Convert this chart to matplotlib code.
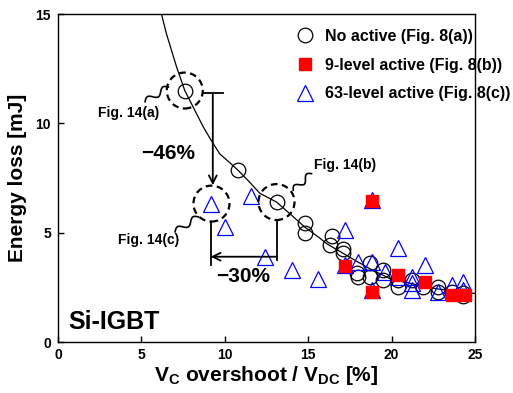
import numpy as np
import matplotlib
matplotlib.use("Agg")
import matplotlib.pyplot as plt
from matplotlib.patches import Ellipse
from matplotlib.lines import Line2D

plt.rcParams['font.family'] = ['Liberation Sans', 'DejaVu Sans']
plt.rcParams['font.weight'] = 'bold'
plt.rcParams['axes.labelweight'] = 'bold'
plt.rcParams['mathtext.fontset'] = 'custom'
plt.rcParams['mathtext.rm'] = 'Liberation Sans:bold'
plt.rcParams['mathtext.bf'] = 'Liberation Sans:bold'

# No active (Fig. 8(a))
no_active_x = [7.6, 10.8, 13.1, 14.8, 14.8, 16.3, 16.4, 17.1, 17.1, 17.9, 18.0, 18.7,
               18.7, 19.5, 19.5, 20.4, 20.4, 21.2, 21.9, 22.8, 22.8, 23.6, 24.3, 24.3]
no_active_y = [11.5, 7.85, 6.4, 5.45, 5.0, 4.45, 4.85, 4.25, 4.05, 3.15, 2.98, 3.6,
               2.98, 3.3, 2.83, 2.83, 2.53, 2.83, 2.53, 2.5, 2.3, 2.3, 2.25, 2.1]

# 9-level active (Fig. 8(b))
lvl9_x = [17.2, 18.8, 18.8, 20.4, 22.0, 23.6, 24.4]
lvl9_y = [3.47, 6.45, 2.3, 3.06, 2.75, 2.15, 2.15]

# 63-level active (Fig. 8(c))
lvl63_x = [9.2, 10.0, 11.6, 12.4, 14.0, 15.6, 17.2, 17.2, 18.0, 18.8, 18.8, 18.8,
           19.6, 20.4, 20.4, 21.2, 21.2, 21.2, 22.0, 22.8, 23.6, 24.3, 24.3]
lvl63_y = [6.33, 5.27, 6.67, 3.9, 3.29, 2.9, 5.1, 3.5, 3.67, 6.5, 3.67, 2.37,
           3.21, 4.28, 2.95, 2.98, 2.68, 2.37, 3.52, 2.3, 2.6, 2.75, 2.37]

# fitted curve
fit_x = [6.2, 6.5, 7.1, 7.6, 8.2, 8.7, 9.2, 9.7, 10.3, 10.8, 11.5, 12.1, 13.1,
         14.0, 14.8, 15.7, 16.1, 17.1, 18.0, 18.7, 19.9, 20.5, 22.1, 23.5, 25.0]
fit_y = [15.0, 14.1, 12.6, 11.5, 10.6, 9.85, 9.2, 8.6, 8.2, 7.85, 7.3, 6.8, 6.4,
         5.8, 5.25, 4.75, 4.5, 4.05, 3.65, 3.35, 2.9, 2.8, 2.5, 2.35, 2.22]


def squiggle(ax, p0, p1, amp=3.0, waves=1.5):
    """Zigzag connector between two data points, amplitude in pixels"""
    a = ax.transData.transform(p0)
    b = ax.transData.transform(p1)
    d = b - a
    n = np.array([-d[1], d[0]]) / np.hypot(*d)
    t = np.linspace(0, 1, 60)
    off = amp * np.sin(2 * np.pi * waves * t)
    pts = a[None, :] + t[:, None] * d[None, :] + off[:, None] * n[None, :]
    pts = ax.transData.inverted().transform(pts)
    ax.plot(pts[:, 0], pts[:, 1], color='k', lw=1.2, zorder=6)


def dashed_circle(ax, x, y):
    ax.add_patch(Ellipse((x, y), 36 / 16.67, 36 / 21.9, fill=False,
                         ls=(0, (3, 2)), lw=1.6, ec='k', zorder=6))


fig = plt.figure(figsize=(5.13, 3.93), dpi=100)
ax = fig.add_axes([58 / 513, 1 - 342 / 393, 417 / 513, 328 / 393])
ax.set_xlim(0, 25)
ax.set_ylim(0, 15)
ax.set_xticks([0, 5, 10, 15, 20, 25])
ax.set_yticks([0, 5, 10, 15])
ax.tick_params(direction='in', length=4, labelsize=10, width=1)
ax.tick_params(axis='y', pad=5)
ax.tick_params(axis='x', pad=4)
for s in ax.spines.values():
    s.set_linewidth(1)

ax.plot(fit_x, fit_y, color='k', lw=0.9, zorder=2)
ax.plot(no_active_x, no_active_y, 'o', ms=10.5, mfc='none', mec='k', mew=0.9, zorder=3)
ax.plot(lvl63_x, lvl63_y, '^', ms=11, mfc='none', mec='b', mew=0.9, zorder=4)
ax.plot(lvl9_x, lvl9_y, 's', ms=8.5, mfc='r', mec='r', zorder=5)

ax.set_xlabel(r'V$_{\mathrm{C}}$ overshoot / V$_{\mathrm{DC}}$ [%]', fontsize=15, labelpad=2)
ax.set_ylabel('Energy loss [mJ]', fontsize=15, labelpad=6)

# highlighted points
dashed_circle(ax, 7.6, 11.5)
dashed_circle(ax, 13.1, 6.4)
dashed_circle(ax, 9.2, 6.33)

squiggle(ax, (5.22, 10.99), (6.62, 11.66))
squiggle(ax, (14.1, 6.94), (15.2, 7.7))
squiggle(ax, (7.02, 5.04), (8.42, 5.72))
ax.text(4.22, 10.47, 'Fig. 14(a)', fontsize=10, ha='center', va='center')
ax.text(17.2, 8.1, 'Fig. 14(b)', fontsize=10, ha='center', va='center')
ax.text(5.42, 4.66, 'Fig. 14(c)', fontsize=10, ha='center', va='center')

# -46 % arrow
ax.plot([8.72, 9.92], [11.38, 11.38], color='k', lw=1.3, zorder=6)
ax.annotate('', xy=(9.28, 7.17), xytext=(9.28, 11.38),
            arrowprops=dict(arrowstyle='->', lw=1.3, color='k',
                            shrinkA=0, shrinkB=0, mutation_scale=14), zorder=6)
ax.text(6.62, 8.6, '\u221246%', fontsize=15, ha='center', va='center')

# -30 % arrow
ax.plot([13.1, 13.1], [5.58, 3.74], color='k', lw=1.3, zorder=6)
ax.plot([9.16, 9.16], [5.42, 3.52], color='k', lw=1.3, zorder=6)
ax.annotate('', xy=(9.16, 3.9), xytext=(13.1, 3.9),
            arrowprops=dict(arrowstyle='->', lw=1.3, color='k',
                            shrinkA=0, shrinkB=0, mutation_scale=14), zorder=6)
ax.text(11.1, 2.98, '\u221230%', fontsize=15, ha='center', va='center')

ax.text(0.62, 0.58, 'Si-IGBT', fontsize=18, ha='left', va='baseline')

handles = [
    Line2D([], [], ls='none', marker='o', ms=10.5, mfc='none', mec='k', mew=0.9),
    Line2D([], [], ls='none', marker='s', ms=8.5, mfc='r', mec='r'),
    Line2D([], [], ls='none', marker='^', ms=11, mfc='none', mec='b', mew=0.9),
]
labels = ['No active (Fig. 8(a))', '9-level active (Fig. 8(b))',
          '63-level active (Fig. 8(c))']
leg = fig.legend(handles, labels, loc='upper left', bbox_to_anchor=(297 / 513, 1 - 29 / 393),
                 frameon=False, fontsize=11.5, handlelength=1.0, handletextpad=0.75,
                 borderpad=0, borderaxespad=0, labelspacing=0.85, numpoints=1)

fig.savefig('out.png', dpi=100)
